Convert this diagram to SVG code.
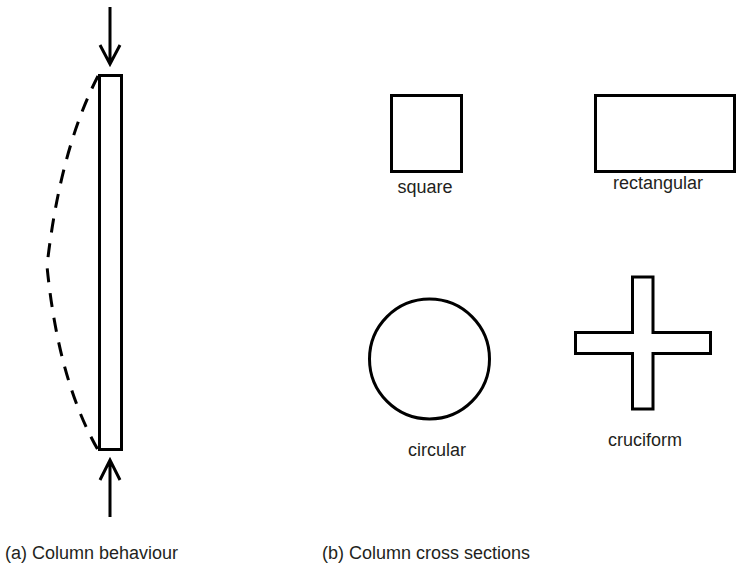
<svg xmlns="http://www.w3.org/2000/svg" width="756" height="568" viewBox="0 0 756 568">
<style>
.s{fill:none;stroke:#000;stroke-width:3}
.d{fill:none;stroke:#000;stroke-width:3;stroke-dasharray:14 11}
.t{font-family:"Liberation Sans",Arial,sans-serif;font-size:18px;fill:#231f20}
</style>
<rect width="756" height="568" fill="#fff"/>
<g id="column">
<rect class="s" x="99.5" y="75.5" width="22" height="374"/>
</g>
<g id="connectors">
<path class="s" d="M110,7 V64 M100,45 L110,64 L120,45"/>
<path class="s" d="M110,517 V460 M100,480 L110,460 L120,480"/>
<path class="d" d="M98,76 Q60,150 47,266 Q58,380 98,450"/>
</g>
<g id="square">
<rect class="s" x="391.5" y="95.5" width="70" height="76"/>
<text class="t" x="425" y="193" text-anchor="middle">square</text>
</g>
<g id="rectangular">
<rect class="s" x="595.5" y="95.5" width="139" height="76"/>
<text class="t" x="658" y="189" text-anchor="middle">rectangular</text>
</g>
<g id="circular">
<circle class="s" cx="429.5" cy="359" r="60"/>
<text class="t" x="437" y="456" text-anchor="middle">circular</text>
</g>
<g id="cruciform">
<path class="s" d="M632.5,277 H653 V332.5 H710.5 V353.5 H653 V409 H632.5 V353.5 H575.5 V332.5 H632.5 Z"/>
<text class="t" x="645" y="446" text-anchor="middle">cruciform</text>
</g>
<g id="captions">
<text class="t" x="5" y="559">(a) Column behaviour</text>
<text class="t" x="322" y="559">(b) Column cross sections</text>
</g>
</svg>
